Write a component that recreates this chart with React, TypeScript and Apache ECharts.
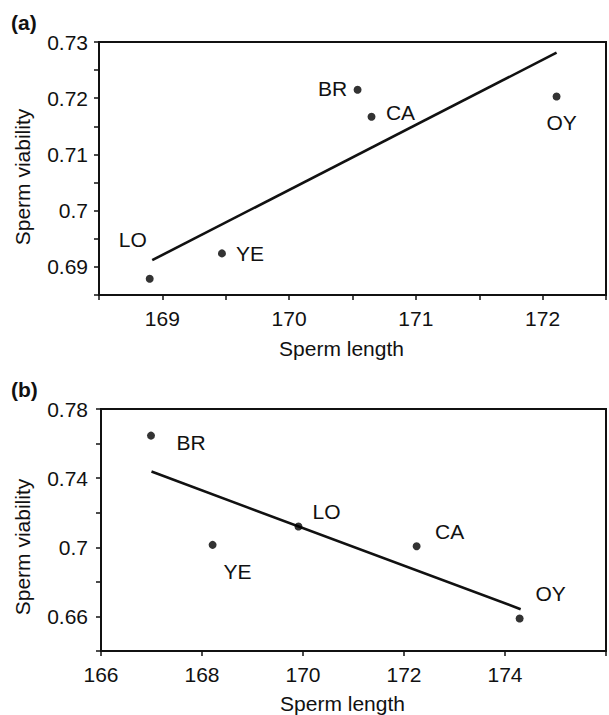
import React, { useEffect, useRef } from "react";
import * as echarts from "echarts";

// Panel (a)
const speciesA = ["LO", "YE", "BR", "CA", "OY"];
const lengthA = [168.9, 169.47, 170.54, 170.65, 172.11];
const viabilityA = [0.6879, 0.6924, 0.7215, 0.7167, 0.7203];
const fitLengthA = [168.92, 172.11];
const fitViabilityA = [0.6912, 0.7281];

// Panel (b)
const speciesB = ["BR", "YE", "LO", "CA", "OY"];
const lengthB = [166.99, 168.21, 169.91, 172.25, 174.29];
const viabilityB = [0.7646, 0.7014, 0.712, 0.7006, 0.6588];
const fitLengthB = [167.0, 174.31];
const fitViabilityB = [0.7438, 0.6642];

const panelLabels = ["(a)", "(b)"];
const xTitle = "Sperm length";
const yTitle = "Sperm viability";

// label offsets (style)
const offsetsA: Record<string, [number, number]> = {
  LO: [-17, -39],
  YE: [28, 0],
  BR: [-25, -1],
  CA: [29, -4],
  OY: [5, 26],
};
const offsetsB: Record<string, [number, number]> = {
  BR: [40, 7],
  YE: [25, 27],
  LO: [28, -15],
  CA: [33, -15],
  OY: [31, -25],
};

const FONT = "'Liberation Sans', Arial, Helvetica, sans-serif";
const INK = "#111111";
const FS = 21;

function fmt(v: number) {
  return String(Number(v.toFixed(2)));
}

export default function App() {
  const ref = useRef<HTMLDivElement>(null);
  useEffect(() => {
    if (!ref.current) return;
    const chart = echarts.init(ref.current, undefined, { renderer: "svg" });

    const axisCommon = {
      axisLine: { show: true, onZero: false, lineStyle: { color: INK, width: 2 } },
      axisTick: { show: true, inside: false, length: 5, lineStyle: { color: INK, width: 1.5 } },
      splitLine: { show: false },
      nameTextStyle: { fontFamily: FONT, fontSize: FS, color: INK },
    };

    const scatter = (
      names: string[],
      xs: number[],
      ys: number[],
      offs: Record<string, [number, number]>,
      idx: number
    ) => ({
      type: "scatter",
      xAxisIndex: idx,
      yAxisIndex: idx,
      symbol: "circle",
      symbolSize: 8,
      itemStyle: { color: "#000" },
      z: 3,
      label: {
        show: true,
        position: "inside",
        fontFamily: FONT,
        fontSize: FS,
        color: INK,
        textBorderWidth: 0,
        opacity: 1,
      },
      data: names.map((n, i) => ({
        name: n,
        value: [xs[i], ys[i]],
        label: {
          show: true,
          formatter: n,
          position: "inside",
          offset: offs[n],
          fontFamily: FONT,
          fontSize: FS,
          color: INK,
          textBorderWidth: 0,
        },
      })),
    });

    const fitLine = (xs: number[], ys: number[], idx: number) => ({
      type: "line",
      xAxisIndex: idx,
      yAxisIndex: idx,
      symbol: "none",
      lineStyle: { color: INK, width: 2.6 },
      z: 2,
      data: xs.map((x, i) => [x, ys[i]]),
    });

    chart.setOption({
      animation: false,
      backgroundColor: "#ffffff",
      textStyle: { fontFamily: FONT },
      grid: [
        { left: 99, top: 42, width: 512, height: 253, show: true, borderColor: INK, borderWidth: 2, containLabel: false },
        { left: 101, top: 409, width: 506, height: 243, show: true, borderColor: INK, borderWidth: 2, containLabel: false },
      ],
      xAxis: [
        {
          ...axisCommon,
          gridIndex: 0,
          type: "value",
          min: 168.5,
          max: 172.5,
          interval: 0.5,
          name: xTitle,
          nameLocation: "middle",
          nameGap: 43,
          nameTextStyle: { ...axisCommon.nameTextStyle, padding: [0, 22, 0, 0] },
          axisLabel: {
            margin: 13,
            fontFamily: FONT,
            fontSize: FS,
            color: INK,
            formatter: (v: number) => (Math.abs(v - Math.round(v)) < 1e-6 ? String(Math.round(v)) : ""),
          },
        },
        {
          ...axisCommon,
          gridIndex: 1,
          type: "value",
          min: 166,
          max: 176,
          interval: 2,
          name: xTitle,
          nameLocation: "middle",
          nameGap: 42,
          nameTextStyle: { ...axisCommon.nameTextStyle, padding: [0, 22, 0, 0] },
          axisLabel: {
            margin: 13,
            fontFamily: FONT,
            fontSize: FS,
            color: INK,
            formatter: (v: number) => (Math.round(v) >= 176 ? "" : String(Math.round(v))),
          },
        },
      ],
      yAxis: [
        {
          ...axisCommon,
          gridIndex: 0,
          type: "value",
          min: 0.685,
          max: 0.73,
          interval: 0.005,
          name: yTitle,
          nameLocation: "middle",
          nameGap: 66,
          nameTextStyle: { ...axisCommon.nameTextStyle, padding: [0, 17, 0, 0] },
          axisLabel: {
            margin: 11,
            fontFamily: FONT,
            fontSize: FS,
            color: INK,
            formatter: (v: number) => (Math.round(v * 1000) % 10 === 0 ? fmt(v) : ""),
          },
        },
        {
          ...axisCommon,
          gridIndex: 1,
          type: "value",
          min: 0.64,
          max: 0.78,
          interval: 0.02,
          name: yTitle,
          nameLocation: "middle",
          nameGap: 68,
          nameTextStyle: { ...axisCommon.nameTextStyle, padding: [0, 34, 0, 0] },
          axisLabel: {
            margin: 13,
            fontFamily: FONT,
            fontSize: FS,
            color: INK,
            formatter: (v: number) => (Math.round(v * 100) % 4 === 2 ? fmt(v) : ""),
          },
        },
      ],
      graphic: [
        { type: "text", left: 11, top: 12, style: { text: panelLabels[0], font: `bold ${FS}px ${FONT}`, fill: INK } },
        { type: "text", left: 11, top: 379, style: { text: panelLabels[1], font: `bold ${FS}px ${FONT}`, fill: INK } },
      ],
      series: [
        fitLine(fitLengthA, fitViabilityA, 0),
        scatter(speciesA, lengthA, viabilityA, offsetsA, 0),
        fitLine(fitLengthB, fitViabilityB, 1),
        scatter(speciesB, lengthB, viabilityB, offsetsB, 1),
      ],
    });
    return () => chart.dispose();
  }, []);

  return (
    <div
      ref={ref}
      style={{ position: "absolute", left: 0, top: 0, width: 609, height: 715, background: "#fff" }}
    />
  );
}
